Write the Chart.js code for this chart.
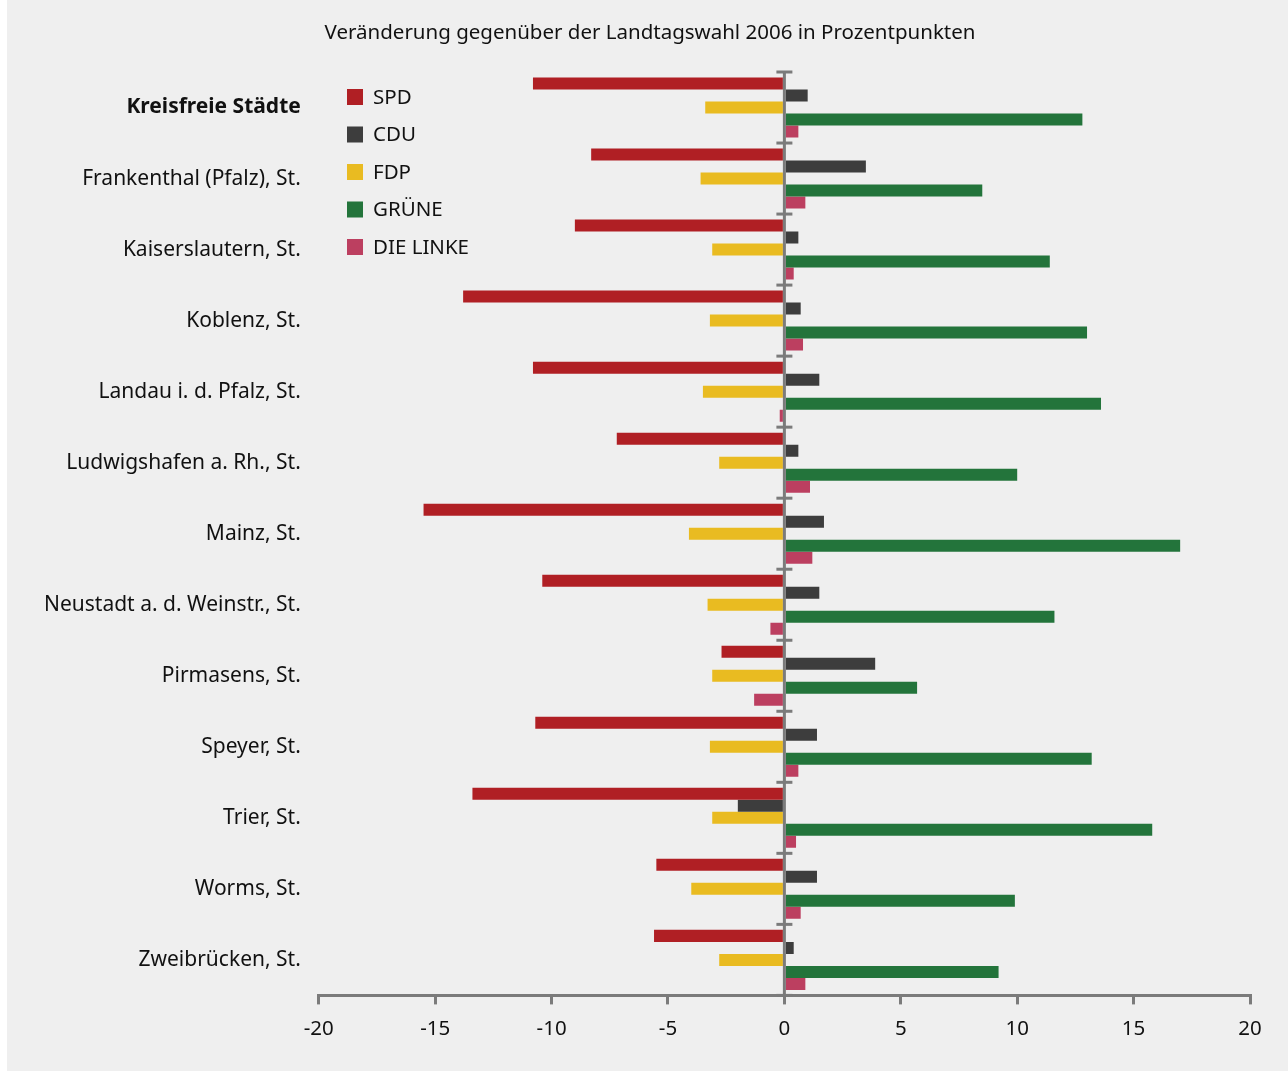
<!DOCTYPE html>
<html>
<head>
<meta charset="utf-8">
<script src="https://cdn.jsdelivr.net/npm/chart.js@4/dist/chart.umd.min.js"></script>
<style>
  html, body { margin: 0; padding: 0; background: #ffffff; }
  #wrap { width: 1288px; height: 1071px; position: relative; }
</style>
</head>
<body>
<div id="wrap"><canvas id="chart"></canvas></div>
<script>
// data
const categories = [
  'Kreisfreie Städte', 'Frankenthal (Pfalz), St.', 'Kaiserslautern, St.', 'Koblenz, St.',
  'Landau i. d. Pfalz, St.', 'Ludwigshafen a. Rh., St.', 'Mainz, St.', 'Neustadt a. d. Weinstr., St.',
  'Pirmasens, St.', 'Speyer, St.', 'Trier, St.', 'Worms, St.', 'Zweibrücken, St.'
];
const spd    = [-10.8, -8.3, -9.0, -13.8, -10.8, -7.2, -15.5, -10.4, -2.7, -10.7, -13.4, -5.5, -5.6];
const cdu    = [1.0, 3.5, 0.6, 0.7, 1.5, 0.6, 1.7, 1.5, 3.9, 1.4, -2.0, 1.4, 0.4];
const fdp    = [-3.4, -3.6, -3.1, -3.2, -3.5, -2.8, -4.1, -3.3, -3.1, -3.2, -3.1, -4.0, -2.8];
const gruene = [12.8, 8.5, 11.4, 13.0, 13.6, 10.0, 17.0, 11.6, 5.7, 13.2, 15.8, 9.9, 9.2];
const linke  = [0.6, 0.9, 0.4, 0.8, -0.2, 1.1, 1.2, -0.6, -1.3, 0.6, 0.5, 0.7, 0.9];
const xTicks = [-20, -15, -10, -5, 0, 5, 10, 15, 20];
const titleText = 'Veränderung gegenüber der Landtagswahl 2006 in Prozentpunkten';

const FONT = '"Noto Sans", "Open Sans", sans-serif';
const AXIS_GREY = '#7b7b7b';

function barSet(label, color, data){
  return {
    label, data,
    backgroundColor: color,
    borderWidth: 0,
    barPercentage: 1.0,
    categoryPercentage: 0.845,
  };
}

// grey panel, leaves thin white strip on the left; title on top
const panelBg = {
  id: 'panelBg',
  beforeDraw(chart){
    const c = chart.ctx;
    c.save();
    c.fillStyle = '#efefef';
    c.fillRect(7, 0, chart.width - 7, chart.height);
    c.font = '20.5px ' + FONT;
    c.fillStyle = '#111111';
    c.textAlign = 'center';
    c.textBaseline = 'middle';
    c.fillText(titleText, 650, 33);
    c.restore();
  }
};

// zero line with small category ticks + legend in the upper left
const zeroAxis = {
  id: 'zeroAxis',
  afterDatasetsDraw(chart){
    const c = chart.ctx;
    const xs = chart.scales.x;
    const x0 = xs.getPixelForValue(0);
    const area = chart.chartArea;
    c.save();
    c.strokeStyle = AXIS_GREY;
    c.lineWidth = 3;
    c.beginPath();
    c.moveTo(x0, area.top);
    c.lineTo(x0, area.bottom);
    c.stroke();
    const step = (area.bottom - area.top) / categories.length;
    for(let i = 0; i <= categories.length; i++){
      const y = area.top + i * step;
      c.beginPath();
      c.moveTo(x0 - 8, y);
      c.lineTo(x0 + 8, y);
      c.stroke();
    }
    // legend
    c.font = '20.5px ' + FONT;
    c.textBaseline = 'middle';
    c.textAlign = 'left';
    chart.data.datasets.forEach((ds, i) => {
      const y = 97 + i * 37.5;
      c.fillStyle = ds.backgroundColor;
      c.fillRect(347, y - 8, 16, 16);
      c.fillStyle = '#111111';
      c.fillText(ds.label, 373, y + 1);
    });
    c.restore();
  }
};

new Chart(document.getElementById('chart'), {
  type: 'bar',
  data: {
    labels: categories,
    datasets: [
      barSet('SPD', '#b01f24', spd),
      barSet('CDU', '#3d3d3d', cdu),
      barSet('FDP', '#e9bb21', fdp),
      barSet('GRÜNE', '#23743b', gruene),
      barSet('DIE LINKE', '#bc3f60', linke),
    ]
  },
  options: {
    indexAxis: 'y',
    responsive: true,
    maintainAspectRatio: false,
    animation: false,
    layout: { padding: { left: 26, right: 38, top: 72, bottom: 18 } },
    plugins: {
      legend: { display: false },
      tooltip: { enabled: false },
      title: { display: false }
    },
    scales: {
      x: {
        min: -20, max: 20,
        afterBuildTicks: (axis) => { axis.ticks = xTicks.map(v => ({ value: v })); },
        border: { display: true, color: AXIS_GREY, width: 3 },
        grid: { drawOnChartArea: false, drawTicks: true, tickLength: 9, color: AXIS_GREY, lineWidth: 3 },
        ticks: { color: '#111111', font: { family: FONT, size: 20.5 }, padding: 12, maxRotation: 0 }
      },
      y: {
        border: { display: false },
        grid: { display: false, drawTicks: false },
        ticks: {
          color: '#111111',
          padding: 18,
          font: (ctx) => ({ family: FONT, size: 21, weight: ctx.index === 0 ? 'bold' : 'normal' })
        }
      }
    }
  },
  plugins: [panelBg, zeroAxis]
});
</script>
</body>
</html>
